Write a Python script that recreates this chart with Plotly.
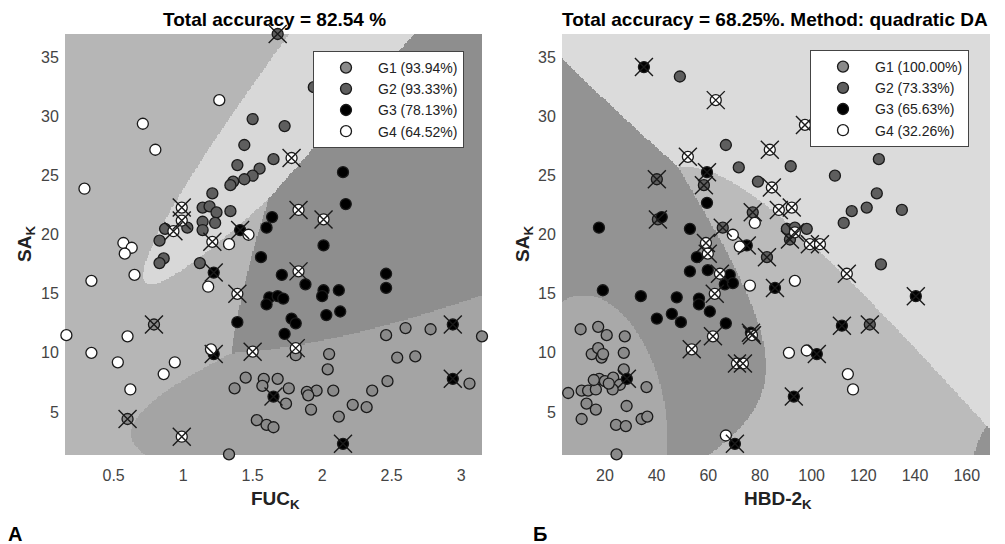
import numpy as np
import plotly.graph_objects as go

# ---------------- Panel A : FUC_K vs SA_K ----------------
# correctly classified points (x, y) and misclassified points (mx, my) per group
A_G1_x = [1.81, 2.05, 2.04, 2.46, 2.60, 2.78, 3.15, 2.54, 2.67, 3.06, 2.47, 2.36, 2.22, 2.32, 2.12, 2.08,
          1.96, 1.89, 1.90, 1.92, 1.76, 1.74, 1.68, 1.58, 1.57, 1.45, 1.37, 1.53, 1.60, 1.65, 1.33]
A_G1_y = [9.8, 9.9, 8.6, 11.5, 12.1, 12.0, 11.4, 9.6, 9.7, 7.4, 7.6, 6.8, 5.6, 5.4, 4.6, 6.8,
          6.8, 6.7, 6.4, 5.2, 7.0, 5.7, 7.8, 7.8, 7.2, 7.9, 7.0, 4.3, 3.9, 3.7, 1.4]
A_G1_mx = [0.79, 0.60]
A_G1_my = [12.4, 4.4]

# (last three G2 / last two G3 points sit under the legend box)
A_G2_x = [1.94, 1.50, 1.73, 1.44, 1.65, 1.39, 1.55, 1.50, 1.44, 1.36, 1.34, 1.21, 1.14, 1.19, 1.24, 1.14,
          1.23, 1.14, 1.03, 1.34, 0.87, 0.83, 0.86, 0.83, 1.12, 2.02, 2.12, 2.22]
A_G2_y = [32.5, 29.8, 29.2, 27.6, 26.4, 25.9, 25.6, 25.0, 24.7, 24.5, 24.2, 23.5, 22.3, 22.4, 21.9, 21.1,
          21.0, 20.4, 20.6, 22.0, 20.5, 19.5, 18.0, 17.6, 17.6, 30.8, 32.6, 34.3]
A_G2_mx = [1.68]
A_G2_my = [37.0]

A_G3_x = [2.15, 2.17, 1.64, 1.60, 2.01, 1.56, 1.71, 2.46, 1.88, 2.46, 1.62, 1.68, 1.72, 1.60, 2.01, 2.00,
          2.12, 2.03, 2.13, 1.78, 1.81, 1.73, 1.39, 2.70, 2.90]
A_G3_y = [25.3, 22.6, 21.5, 20.6, 19.1, 18.1, 16.6, 16.7, 15.8, 15.5, 14.7, 14.8, 14.6, 14.1, 15.3, 14.8,
          15.3, 13.2, 13.5, 12.9, 12.5, 11.6, 12.6, 30.5, 33.5]
A_G3_mx = [1.41, 1.22, 1.22, 2.94, 2.94, 1.65, 2.15]
A_G3_my = [20.4, 16.8, 9.9, 12.4, 7.8, 6.3, 2.3]

A_G4_x = [1.26, 0.71, 0.80, 0.29, 1.33, 1.47, 0.57, 0.63, 0.58, 0.65, 0.34, 1.18, 0.16, 0.60, 0.34, 0.53,
          0.94, 0.86, 0.62, 1.20]
A_G4_y = [31.4, 29.4, 27.2, 23.9, 19.2, 20.0, 19.3, 18.9, 18.4, 16.6, 16.1, 15.6, 11.5, 11.4, 10.0, 9.2,
          9.2, 8.2, 6.9, 10.3]
A_G4_mx = [1.78, 0.99, 0.99, 0.93, 1.21, 1.83, 2.01, 1.83, 1.39, 1.50, 1.81, 0.99]
A_G4_my = [26.5, 22.3, 21.2, 20.3, 19.4, 22.1, 21.3, 16.9, 15.0, 10.1, 10.4, 2.9]

A_legend = ["G1 (93.94%)", "G2 (93.33%)", "G3 (78.13%)", "G4 (64.52%)"]
A_title = "Total accuracy = 82.54 %"
A_xticks = [0.5, 1, 1.5, 2, 2.5, 3]

# ---------------- Panel B : HBD-2_K vs SA_K ----------------
B_G1_x = [10.6, 17.4, 20.7, 27.7, 14.9, 17.4, 18.7, 19.3, 27.3, 27.3, 17.8, 20.0, 23.2, 25.8, 23.0, 5.8,
          11.0, 13.5, 16.5, 12.9, 16.5, 11.0, 28.4, 36.1, 24.3, 28.1, 34.2, 36.4, 24.5, 21.5, 15.7]
B_G1_y = [12.0, 12.2, 11.5, 11.4, 9.9, 10.4, 9.6, 9.9, 10.0, 8.6, 7.8, 7.6, 7.9, 7.3, 6.9, 6.6,
          6.8, 6.8, 6.9, 5.7, 5.2, 4.4, 5.5, 7.1, 3.9, 3.8, 4.4, 4.6, 1.4, 7.4, 7.7]
B_G1_mx = []
B_G1_my = []

# (last four G2 points sit under the legend box)
B_G2_x = [154.2, 49.0, 66.8, 71.8, 91.9, 109.0, 126.0, 79.2, 125.2, 121.3, 115.5, 134.9, 112.4, 90.4,
          93.5, 98.1, 126.8, 169.3, 102.0, 112.0, 106.0, 120.0]
B_G2_y = [37.1, 33.4, 27.6, 25.7, 25.8, 25.0, 26.4, 24.5, 23.5, 22.3, 22.0, 22.1, 21.0, 20.5,
          20.6, 20.5, 17.5, 17.5, 34.5, 35.0, 30.5, 33.0]
B_G2_mx = [40.1, 58.3, 77.2, 40.5, 65.6, 91.6, 82.7, 122.5]
B_G2_my = [24.7, 24.2, 21.9, 21.3, 20.6, 19.6, 18.1, 12.4]

B_G3_x = [17.7, 42.0, 52.9, 59.5, 55.6, 52.9, 59.8, 68.3, 66.4, 69.5, 56.4, 56.4, 47.8, 33.9, 40.1, 45.9,
          49.4, 60.6, 66.8, 19.2]
B_G3_y = [20.6, 21.5, 20.5, 22.7, 18.1, 16.9, 17.0, 16.6, 15.8, 15.9, 14.6, 14.1, 14.7, 14.8, 12.9, 13.3,
          12.6, 13.5, 12.5, 15.3]
B_G3_mx = [35.1, 59.5, 74.9, 85.8, 140.3, 111.7, 102.0, 93.1, 70.3, 28.5, 76.5]
B_G3_my = [34.2, 25.3, 19.1, 15.5, 14.8, 12.3, 9.9, 6.3, 2.3, 7.8, 11.7]

B_G4_x = [78.0, 69.5, 72.2, 76.1, 93.5, 91.2, 98.1, 114.0, 116.0, 66.8]
B_G4_y = [21.0, 20.0, 19.0, 15.7, 16.1, 10.0, 10.2, 8.2, 6.9, 3.0]
B_G4_mx = [62.9, 97.4, 83.8, 52.1, 84.6, 87.3, 92.3, 93.5, 99.3, 103.2, 59.1, 59.8, 64.5, 113.6, 62.5,
           61.8, 76.9, 53.6, 71.1, 73.4, 3.0]
B_G4_my = [31.4, 29.3, 27.2, 26.6, 24.0, 22.1, 22.3, 20.2, 19.2, 19.2, 19.3, 18.4, 16.7, 16.7, 15.0,
           11.4, 11.5, 10.3, 9.1, 9.1, 21.3]

B_legend = ["G1 (100.00%)", "G2 (73.33%)", "G3 (65.63%)", "G4 (32.26%)"]
B_title = "Total accuracy = 68.25%. Method: quadratic DA"
B_xticks = [20, 40, 60, 80, 100, 120, 140, 160]

y_ticks = [5, 10, 15, 20, 25, 30, 35]

# ---------------- styles ----------------
FILL = ["#8a8a8a", "#5e5e5e", "#000000", "#ffffff"]
REGION_A = ["#a4a4a4", "#d8d8d8", "#8e8e8e", "#b6b6b6"]
REGION_B = ["#a9a9a9", "#dbdbdb", "#939393", "#bbbbbb"]
XR_A, YR = [0.15, 3.15], [1.35, 37.0]
XR_B = [3.4, 169.0]
FONT = "Liberation Sans, Arial, sans-serif"


def qda_regions(groups, xr, yr, n=320):
    gx = np.linspace(xr[0], xr[1], n)
    gy = np.linspace(yr[0], yr[1], n)
    X, Y = np.meshgrid(gx, gy)
    P = np.stack([X.ravel(), Y.ravel()], axis=1)
    scores = []
    for xs, ys in groups:
        D = np.column_stack([xs, ys]).astype(float)
        mu = D.mean(axis=0)
        S = np.cov(D.T)
        Si = np.linalg.inv(S)
        d = P - mu
        m = np.einsum("ij,jk,ik->i", d, Si, d)
        scores.append(-0.5 * np.log(np.linalg.det(S)) - 0.5 * m)
    cls = np.argmax(np.stack(scores, axis=1), axis=1).reshape(n, n)
    return gx, gy, cls


def panel(fig, col, G, regions, xr, legend_names, legend_id):
    xa = "x" if col == 1 else "x2"
    ya = "y" if col == 1 else "y2"
    groups = [(g[0] + g[2], g[1] + g[3]) for g in G]
    gx, gy, cls = qda_regions(groups, xr, YR)
    cs = []
    for i, c in enumerate(regions):
        cs += [[i / 4, c], [(i + 1) / 4, c]]
    fig.add_trace(go.Heatmap(x=gx, y=gy, z=cls, zmin=-0.5, zmax=3.5, colorscale=cs,
                             showscale=False, hoverinfo="skip", xaxis=xa, yaxis=ya))
    for i, g in enumerate(G):
        fig.add_trace(go.Scatter(
            x=g[0] + g[2], y=g[1] + g[3], mode="markers", name=legend_names[i],
            legend=legend_id, xaxis=xa, yaxis=ya, cliponaxis=False,
            marker=dict(symbol="circle", size=11, color=FILL[i], line=dict(color="#1a1a1a", width=1.3))))
    mx = sum([g[2] for g in G], [])
    my = sum([g[3] for g in G], [])
    fig.add_trace(go.Scatter(
        x=mx, y=my, mode="markers", showlegend=False, xaxis=xa, yaxis=ya, cliponaxis=False,
        marker=dict(symbol="x-thin-open", size=18, color="#1a1a1a", line=dict(color="#1a1a1a", width=1.4))))


fig = go.Figure()
GA = [(A_G1_x, A_G1_y, A_G1_mx, A_G1_my), (A_G2_x, A_G2_y, A_G2_mx, A_G2_my),
      (A_G3_x, A_G3_y, A_G3_mx, A_G3_my), (A_G4_x, A_G4_y, A_G4_mx, A_G4_my)]
GB = [(B_G1_x, B_G1_y, B_G1_mx, B_G1_my), (B_G2_x, B_G2_y, B_G2_mx, B_G2_my),
      (B_G3_x, B_G3_y, B_G3_mx, B_G3_my), (B_G4_x, B_G4_y, B_G4_mx, B_G4_my)]
panel(fig, 1, GA, REGION_A, XR_A, A_legend, "legend")
panel(fig, 2, GB, REGION_B, XR_B, B_legend, "legend2")

W, H = 1005, 544
axfont = dict(family=FONT, size=16, color="#444444")
xcommon = dict(showgrid=False, zeroline=False, showline=False, ticks="outside", ticklen=6,
               tickcolor="rgba(0,0,0,0)", tickfont=axfont)
ycommon = dict(showgrid=False, zeroline=False, showline=False, ticks="outside", ticklen=2,
               tickcolor="rgba(0,0,0,0)", tickfont=axfont)
legstyle = dict(font=dict(family=FONT, size=14, color="#222222"), bgcolor="white",
                bordercolor="#444444", borderwidth=1, xanchor="left", yanchor="top",
                tracegroupgap=0, itemwidth=54)


def ann(text, x, y, size, color="#222222", angle=0):
    return dict(text=text, x=x / W, y=1 - y / H, xref="paper", yref="paper", xanchor="center",
                yanchor="middle", showarrow=False, textangle=angle,
                font=dict(family=FONT, size=size, color=color))


fig.update_layout(
    width=W, height=H, margin=dict(l=0, r=0, t=0, b=0),
    paper_bgcolor="white", plot_bgcolor="white",
    xaxis=dict(domain=[65 / W, 482 / W], range=XR_A, tickvals=A_xticks, anchor="y", **xcommon),
    yaxis=dict(domain=[89 / H, 510 / H], range=YR, tickvals=y_ticks, anchor="x", **ycommon),
    xaxis2=dict(domain=[562 / W, 990 / W], range=XR_B, tickvals=B_xticks, anchor="y2", **xcommon),
    yaxis2=dict(domain=[89 / H, 510 / H], range=YR, tickvals=y_ticks, anchor="x2", **ycommon),
    legend=dict(x=313 / W, y=1 - 51 / H, **legstyle),
    legend2=dict(x=810 / W, y=1 - 50 / H, **legstyle),
    annotations=[
        ann("<b>" + A_title + "</b>", 274, 20, 19, "black"),
        ann("<b>" + B_title + "</b>", 775, 20, 19, "black"),
        ann("<b>FUC<sub>K</sub></b>", 275, 500, 19),
        ann("<b>HBD-2<sub>K</sub></b>", 778, 500, 19),
        ann("<b>SA<sub>K</sub></b>", 26, 244, 19, angle=-90),
        ann("<b>SA<sub>K</sub></b>", 524, 244, 19, angle=-90),
        ann("<b>А</b>", 15, 534, 20, "black"),
        ann("<b>Б</b>", 540, 534, 20, "black"),
    ],
)

fig.write_html("out.html", config={"displayModeBar": False},
               post_script="document.body.style.margin='0px';")
